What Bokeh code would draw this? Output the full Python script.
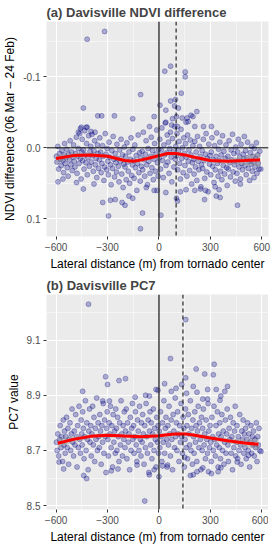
from bokeh.plotting import figure
from bokeh.models import Range1d, FixedTicker, Span
from bokeh.layouts import column
from bokeh.embed import file_html
from bokeh.resources import INLINE

# ---------------- data ----------------
x_ticks = [-600, -300, 0, 300, 600]
x_minor = [-450, -150, 150, 450]
x_labels = {-600: "\u2212600", -300: "\u2212300", 0: "0", 300: "300", 600: "600"}

ndvi_yticks = [-0.1, 0.0, 0.1]
ndvi_yminor = [-0.15, -0.05, 0.05]
ndvi_ylabels = {-0.1: "-0.1", 0.0: "0.0", 0.1: "0.1"}

pc7_yticks = [8.5, 8.7, 8.9, 9.1]
pc7_yminor = [8.6, 8.8, 9.0, 9.2]
pc7_ylabels = {8.5: "8.5", 8.7: "8.7", 8.9: "8.9", 9.1: "9.1"}

ndvi_center_line = 0
ndvi_path_line = 100
pc7_center_line = 0
pc7_path_line = 140

ndvi_points = [
    # outliers
    (-419, -0.153), (-317, -0.164), (-107, -0.075), (-441, -0.056), (-357, -0.045), (-334, -0.045),
    (-260, -0.045), (-153, -0.041), (-28, -0.044), (-453, -0.029), (-419, -0.029),
    (34, -0.108), (68, -0.115), (153, -0.107), (153, -0.100), (130, -0.077), (96, -0.068), (68, -0.066),
    (6, -0.060), (91, -0.059), (113, -0.056), (40, -0.053), (221, -0.051), (187, -0.046), (198, -0.044),
    (136, -0.042), (164, -0.042), (102, -0.044), (79, -0.041), (40, -0.036), (158, -0.036), (170, -0.037),
    (74, -0.032), (209, -0.030), (260, -0.030), (306, -0.030), (108, -0.030),
    (-470, -0.022), (-458, -0.027), (-396, -0.023), (-373, -0.022), (-424, -0.029),
    (-328, 0.077), (-294, 0.096), (-255, 0.073), (-283, 0.074), (-108, 0.114), (-96, 0.092), (-198, 0.081),
    (-215, 0.077), (-441, 0.058), (-589, 0.048), (-560, 0.044), (-481, 0.049), (-379, 0.051), (-175, 0.068),
    (-153, 0.071), (-74, 0.056), (-28, 0.060),
    (11, 0.095), (458, 0.081), (266, 0.073), (334, 0.068), (357, 0.070), (102, 0.071), (108, 0.075),
    (-11, 0.060), (40, 0.063), (125, 0.062), (158, 0.059), (209, 0.060), (243, 0.058), (272, 0.060),
    (328, 0.055), (351, 0.059), (475, 0.051), (555, 0.042), (594, 0.030),
    # main cloud
    (-598, 0.012), (-595, 0.020), (-590, -0.002), (-585, 0.030), (-580, 0.008), (-575, 0.016), (-570, 0.025),
    (-566, 0.004), (-560, 0.018), (-556, 0.035), (-552, 0.010), (-550, -0.006),
    (-547, 0.022), (-543, 0.014), (-538, 0.002), (-535, 0.028), (-530, 0.040), (-527, 0.009), (-522, 0.017),
    (-518, -0.010), (-514, 0.024), (-510, 0.006), (-506, 0.032), (-502, 0.013),
    (-498, -0.004), (-494, 0.019), (-490, 0.027), (-486, 0.008), (-482, -0.015), (-478, 0.036), (-474, 0.012),
    (-470, 0.001), (-466, 0.022), (-462, -0.020), (-458, 0.015), (-454, 0.044), (-451, 0.006),
    (-448, -0.012), (-445, 0.018), (-441, 0.003), (-437, 0.030), (-433, -0.024), (-430, 0.010), (-426, 0.021),
    (-422, -0.006), (-418, 0.038), (-414, 0.014), (-410, -0.017), (-406, 0.026), (-402, 0.005),
    (-398, -0.002), (-395, 0.020), (-391, -0.019), (-387, 0.011), (-383, 0.033), (-379, 0.004), (-375, -0.010),
    (-371, 0.024), (-367, 0.015), (-363, 0.042), (-359, -0.004), (-355, 0.008), (-352, 0.029),
    (-348, 0.017), (-345, -0.014), (-341, 0.006), (-337, 0.035), (-333, 0.022), (-329, -0.003), (-325, 0.012),
    (-321, 0.046), (-317, 0.027), (-313, -0.020), (-309, 0.009), (-305, 0.031), (-302, 0.001),
    (-298, 0.019), (-295, 0.038), (-291, -0.008), (-287, 0.013), (-283, 0.024), (-279, 0.052), (-275, 0.004),
    (-271, 0.029), (-267, -0.016), (-263, 0.016), (-259, 0.041), (-255, 0.008), (-252, 0.021),
    (-248, 0.034), (-245, -0.005), (-241, 0.015), (-237, 0.026), (-233, 0.048), (-229, 0.003), (-225, 0.019),
    (-221, -0.012), (-217, 0.037), (-213, 0.010), (-209, 0.056), (-205, 0.023), (-202, -0.001),
    (-198, 0.027), (-195, 0.012), (-191, 0.045), (-187, -0.007), (-183, 0.020), (-179, 0.033), (-175, 0.006),
    (-171, 0.050), (-167, 0.016), (-163, -0.014), (-159, 0.039), (-155, 0.024), (-152, 0.002),
    (-148, 0.018), (-145, 0.043), (-141, -0.004), (-137, 0.028), (-133, 0.011), (-129, 0.060), (-125, 0.022),
    (-121, -0.018), (-117, 0.035), (-113, 0.007), (-109, 0.047), (-105, 0.014), (-102, 0.026),
    (-98, 0.005), (-95, 0.031), (-91, -0.022), (-87, 0.017), (-83, 0.040), (-79, 0.009), (-75, -0.010),
    (-71, 0.024), (-67, 0.052), (-63, 0.001), (-59, 0.019), (-55, -0.030), (-52, 0.036),
    (-48, 0.012), (-45, -0.015), (-41, 0.028), (-37, 0.004), (-33, 0.045), (-29, 0.016), (-25, -0.006),
    (-21, 0.033), (-17, 0.009), (-13, -0.025), (-9, 0.021), (-5, 0.040), (-2, 0.002),
    (2, 0.014), (5, -0.012), (9, 0.030), (13, 0.003), (17, -0.028), (21, 0.018), (25, 0.042),
    (29, -0.004), (33, 0.010), (37, -0.035), (41, 0.025), (45, 0.007), (48, -0.018),
    (52, 0.020), (55, -0.008), (59, 0.036), (63, 0.001), (67, -0.022), (71, 0.013), (75, 0.048),
    (79, -0.013), (83, 0.006), (87, 0.027), (91, -0.030), (95, 0.016), (98, -0.002),
    (102, 0.011), (105, -0.020), (109, 0.031), (113, 0.004), (117, -0.009), (121, 0.022), (125, 0.044),
    (129, -0.026), (133, 0.015), (137, 0.000), (141, 0.035), (145, -0.014), (148, 0.008),
    (152, 0.025), (155, -0.006), (159, 0.013), (163, 0.040), (167, -0.018), (171, 0.019), (175, 0.003),
    (179, 0.032), (183, -0.011), (187, 0.010), (191, 0.051), (195, 0.021), (198, -0.003),
    (202, 0.016), (205, 0.037), (209, -0.009), (213, 0.027), (217, 0.006), (221, 0.046), (225, -0.016),
    (229, 0.019), (233, 0.031), (237, -0.002), (241, 0.012), (245, 0.055), (248, 0.024),
    (252, 0.004), (255, 0.029), (259, -0.012), (263, 0.018), (267, 0.043), (271, 0.009), (275, -0.020),
    (279, 0.034), (283, 0.015), (287, 0.062), (291, -0.005), (295, 0.023), (298, 0.011),
    (302, 0.038), (305, 0.006), (309, -0.014), (313, 0.026), (317, 0.017), (321, 0.049), (325, -0.003),
    (329, 0.031), (333, 0.012), (337, -0.021), (341, 0.022), (345, 0.040), (348, 0.002),
    (352, 0.018), (355, -0.008), (359, 0.033), (363, 0.010), (367, 0.045), (371, -0.017), (375, 0.025),
    (379, 0.005), (383, 0.037), (387, 0.015), (391, -0.004), (395, 0.028), (398, 0.053),
    (402, 0.012), (405, 0.030), (409, -0.010), (413, 0.021), (417, 0.041), (421, 0.003), (425, 0.017),
    (429, -0.019), (433, 0.034), (437, 0.008), (441, 0.024), (445, 0.047), (448, -0.001),
    (452, 0.019), (455, 0.036), (459, 0.006), (463, -0.012), (467, 0.027), (471, 0.013), (475, 0.044),
    (479, -0.005), (483, 0.022), (487, 0.031), (491, 0.009), (495, 0.016), (498, -0.016),
    (502, 0.025), (505, 0.004), (509, 0.038), (513, 0.014), (517, -0.008), (521, 0.029), (525, 0.019),
    (529, 0.046), (533, 0.007), (537, 0.023), (541, -0.002), (545, 0.033), (548, 0.012),
    (552, 0.020), (556, 0.001), (560, 0.027), (564, 0.015), (568, -0.007), (572, 0.036), (576, 0.010),
    (580, 0.022), (584, 0.030), (588, 0.005),
]

ndvi_smooth_x = [-600, -500, -400, -300, -200, -150, -100, -50, 0, 50, 100, 150, 200, 300, 400, 500, 590]
ndvi_smooth_y = [0.015, 0.011, 0.010, 0.012, 0.018, 0.019, 0.017, 0.014, 0.011, 0.008, 0.008, 0.010, 0.013,
                 0.018, 0.019, 0.018, 0.017]
ndvi_smooth_se = [0.006, 0.004, 0.003, 0.003, 0.003, 0.003, 0.003, 0.003, 0.003, 0.003, 0.003, 0.003, 0.003,
                  0.003, 0.004, 0.006, 0.010]

pc7_points = [
    # outliers
    (-411, 9.230), (-311, 8.967), (-300, 8.939), (-233, 8.953), (-195, 8.960), (-445, 8.914), (-139, 8.893),
    (-78, 8.900), (-56, 8.897), (-17, 8.921), (-328, 8.879), (-289, 8.879),
    (156, 9.174), (67, 9.033), (322, 9.012), (217, 8.995), (267, 8.977), (317, 8.974), (156, 8.963),
    (33, 8.942), (133, 8.939), (100, 8.925), (200, 8.932), (400, 8.932), (72, 8.914), (222, 8.911),
    (284, 8.921), (334, 8.921), (384, 8.914), (161, 8.907), (361, 8.897), (256, 8.886), (284, 8.886),
    (356, 8.882), (-6, 8.918),
    (-83, 8.517), (0, 8.605), (-56, 8.612), (-422, 8.598), (-439, 8.609), (-556, 8.633), (-583, 8.658),
    (-278, 8.626), (-239, 8.633), (-128, 8.647), (-28, 8.630), (50, 8.647), (150, 8.675), (200, 8.612),
    (289, 8.623), (345, 8.623), (361, 8.637), (456, 8.658), (522, 8.682), (595, 8.696),
    (183, 8.609), (222, 8.623), (306, 8.616), (256, 8.637), (22, 8.644),
    # main cloud
    (-598, 8.73), (-594, 8.70), (-590, 8.76), (-585, 8.68), (-580, 8.74), (-576, 8.79), (-571, 8.71),
    (-567, 8.75), (-562, 8.66), (-558, 8.81), (-554, 8.72), (-551, 8.77),
    (-547, 8.69), (-543, 8.75), (-539, 8.82), (-535, 8.71), (-531, 8.78), (-527, 8.65), (-523, 8.74),
    (-519, 8.80), (-515, 8.70), (-511, 8.76), (-507, 8.85), (-503, 8.73),
    (-498, 8.68), (-494, 8.77), (-490, 8.72), (-486, 8.83), (-482, 8.75), (-478, 8.64), (-474, 8.79),
    (-470, 8.71), (-466, 8.86), (-462, 8.74), (-458, 8.69), (-454, 8.81), (-451, 8.76),
    (-448, 8.72), (-445, 8.84), (-441, 8.78), (-437, 8.67), (-433, 8.75), (-429, 8.88), (-425, 8.70),
    (-421, 8.80), (-417, 8.74), (-413, 8.63), (-409, 8.77), (-405, 8.85), (-402, 8.73),
    (-398, 8.79), (-395, 8.68), (-391, 8.76), (-387, 8.86), (-383, 8.72), (-379, 8.82), (-375, 8.66),
    (-371, 8.78), (-367, 8.74), (-363, 8.89), (-359, 8.70), (-355, 8.80), (-352, 8.75),
    (-348, 8.71), (-345, 8.83), (-341, 8.77), (-337, 8.65), (-333, 8.79), (-329, 8.73), (-325, 8.87),
    (-321, 8.69), (-317, 8.81), (-313, 8.75), (-309, 8.62), (-305, 8.78), (-302, 8.84),
    (-298, 8.74), (-295, 8.68), (-291, 8.80), (-287, 8.76), (-283, 8.86), (-279, 8.71), (-275, 8.79),
    (-271, 8.64), (-267, 8.83), (-263, 8.73), (-259, 8.77), (-255, 8.69), (-252, 8.85),
    (-248, 8.78), (-245, 8.70), (-241, 8.82), (-237, 8.75), (-233, 8.66), (-229, 8.80), (-225, 8.72),
    (-221, 8.88), (-217, 8.76), (-213, 8.68), (-209, 8.79), (-205, 8.74), (-202, 8.84),
    (-198, 8.71), (-195, 8.77), (-191, 8.85), (-187, 8.67), (-183, 8.80), (-179, 8.73), (-175, 8.76),
    (-171, 8.63), (-167, 8.82), (-163, 8.70), (-159, 8.78), (-155, 8.87), (-152, 8.74),
    (-148, 8.79), (-145, 8.69), (-141, 8.75), (-137, 8.84), (-133, 8.72), (-129, 8.66), (-125, 8.81),
    (-121, 8.77), (-117, 8.70), (-113, 8.86), (-109, 8.74), (-105, 8.68), (-102, 8.80),
    (-98, 8.73), (-95, 8.83), (-91, 8.76), (-87, 8.65), (-83, 8.79), (-79, 8.71), (-75, 8.87),
    (-71, 8.75), (-67, 8.69), (-63, 8.81), (-59, 8.62), (-55, 8.77), (-52, 8.84),
    (-48, 8.72), (-45, 8.80), (-41, 8.67), (-37, 8.76), (-33, 8.85), (-29, 8.70), (-25, 8.78),
    (-21, 8.74), (-17, 8.64), (-13, 8.82), (-9, 8.73), (-5, 8.79), (-2, 8.69),
    (2, 8.77), (5, 8.71), (9, 8.84), (13, 8.75), (17, 8.66), (21, 8.80), (25, 8.73),
    (29, 8.88), (33, 8.69), (37, 8.78), (41, 8.82), (45, 8.74), (48, 8.64),
    (52, 8.79), (55, 8.72), (59, 8.86), (63, 8.76), (67, 8.68), (71, 8.81), (75, 8.74),
    (79, 8.63), (83, 8.83), (87, 8.77), (91, 8.71), (95, 8.89), (98, 8.75),
    (102, 8.80), (105, 8.70), (109, 8.84), (113, 8.76), (117, 8.66), (121, 8.79), (125, 8.73),
    (129, 8.87), (133, 8.75), (137, 8.69), (141, 8.82), (145, 8.78), (148, 8.64),
    (152, 8.74), (155, 8.85), (159, 8.71), (163, 8.79), (167, 8.67), (171, 8.83), (175, 8.76),
    (179, 8.72), (183, 8.88), (187, 8.70), (191, 8.78), (195, 8.65), (198, 8.81),
    (202, 8.75), (205, 8.69), (209, 8.84), (213, 8.73), (217, 8.79), (221, 8.66), (225, 8.77),
    (229, 8.86), (233, 8.71), (237, 8.80), (241, 8.74), (245, 8.63), (248, 8.82),
    (252, 8.70), (255, 8.78), (259, 8.85), (263, 8.72), (267, 8.76), (271, 8.67), (275, 8.81),
    (279, 8.74), (283, 8.69), (287, 8.87), (291, 8.77), (295, 8.71), (298, 8.79),
    (302, 8.73), (305, 8.66), (309, 8.82), (313, 8.75), (317, 8.70), (321, 8.86), (325, 8.74),
    (329, 8.68), (333, 8.79), (337, 8.72), (341, 8.84), (345, 8.64), (348, 8.76),
    (352, 8.71), (355, 8.80), (359, 8.67), (363, 8.75), (367, 8.83), (371, 8.70), (375, 8.77),
    (379, 8.65), (383, 8.73), (387, 8.81), (391, 8.69), (395, 8.76), (398, 8.85),
    (402, 8.72), (405, 8.66), (409, 8.78), (413, 8.74), (417, 8.82), (421, 8.69), (425, 8.75),
    (429, 8.63), (433, 8.80), (437, 8.71), (441, 8.77), (445, 8.86), (448, 8.68),
    (452, 8.73), (455, 8.79), (459, 8.67), (463, 8.75), (467, 8.70), (471, 8.83), (475, 8.72),
    (479, 8.65), (483, 8.77), (487, 8.74), (491, 8.81), (495, 8.69), (498, 8.76),
    (502, 8.71), (505, 8.78), (509, 8.67), (513, 8.74), (517, 8.80), (521, 8.70), (525, 8.76),
    (529, 8.64), (533, 8.73), (537, 8.79), (541, 8.69), (545, 8.75), (548, 8.72),
    (552, 8.77), (556, 8.68), (560, 8.74), (564, 8.71), (568, 8.80), (572, 8.66), (576, 8.75),
    (580, 8.72), (584, 8.78), (588, 8.70),
]

pc7_smooth_x = [-590, -500, -400, -300, -200, -100, 0, 50, 100, 150, 200, 300, 400, 500, 580]
pc7_smooth_y = [8.726, 8.740, 8.751, 8.755, 8.752, 8.750, 8.753, 8.757, 8.760, 8.760, 8.756, 8.745, 8.735,
                8.727, 8.722]
pc7_smooth_se = [0.018, 0.010, 0.008, 0.008, 0.008, 0.008, 0.008, 0.008, 0.008, 0.008, 0.008, 0.008, 0.009,
                 0.012, 0.020]

# ---------------- styling helpers ----------------
FONT = "Liberation Sans"
PANEL_BG = "#EBEBEB"
TICK_COL = "#4D4D4D"


def make_panel(title, ylabel, y_start, y_end, yticks, yminor, ylabels, pts,
               sx, sy, sse, center, path, hline, frame_h):
    p = figure(frame_width=222, frame_height=frame_h,
               x_range=Range1d(-656, 639), y_range=Range1d(y_start, y_end),
               output_backend="svg", toolbar_location=None,
               background_fill_color=PANEL_BG, border_fill_color="white",
               min_border_left=0, min_border_right=3, min_border_top=2, min_border_bottom=2)
    p.outline_line_color = None
    p.title.text = title
    p.title.text_font = FONT
    p.title.text_font_size = "13px"
    p.title.text_font_style = "bold"
    p.title.align = "left"
    p.title.standoff = 4

    p.xaxis.ticker = FixedTicker(ticks=x_ticks, minor_ticks=x_minor)
    p.yaxis.ticker = FixedTicker(ticks=yticks, minor_ticks=yminor)
    p.xaxis.major_label_overrides = x_labels
    p.yaxis.major_label_overrides = ylabels
    for ax in (p.xaxis[0], p.yaxis[0]):
        ax.axis_line_color = None
        ax.major_tick_in = 0
        ax.major_tick_out = 3
        ax.major_tick_line_color = "#333333"
        ax.minor_tick_line_color = None
        ax.major_label_text_font = FONT
        ax.major_label_text_font_size = "10px"
        ax.major_label_text_color = TICK_COL
        ax.major_label_standoff = 2
        ax.axis_label_text_font = FONT
        ax.axis_label_text_font_size = "12px"
        ax.axis_label_text_font_style = "normal"
        ax.axis_label_text_color = "black"
        ax.axis_label_standoff = 3
    p.xaxis.axis_label = "Lateral distance (m) from tornado center"
    p.yaxis.axis_label = ylabel

    for g in (p.xgrid[0], p.ygrid[0]):
        g.grid_line_color = "white"
        g.grid_line_width = 1.1
        g.minor_grid_line_color = "white"
        g.minor_grid_line_width = 0.5

    xs = [a for a, b in pts]
    ys = [b for a, b in pts]
    p.scatter(xs, ys, size=5, fill_color="navy", line_color="navy",
              fill_alpha=0.28, line_alpha=0.28)

    if hline is not None:
        p.add_layout(Span(location=hline, dimension="width", line_color="black", line_width=1))
    p.add_layout(Span(location=center, dimension="height", line_color="#222222", line_width=1.3))
    p.add_layout(Span(location=path, dimension="height", line_color="black", line_width=1,
                      line_dash="4 3"))

    lo = [a - e for a, e in zip(sy, sse)]
    hi = [a + e for a, e in zip(sy, sse)]
    p.varea(x=sx, y1=lo, y2=hi, fill_color="#999999", fill_alpha=0.45)
    p.line(sx, sy, line_color="red", line_width=3)
    return p


p1 = make_panel("(a) Davisville NDVI difference", "NDVI difference (06 Mar \u2013 24 Feb)",
                0.125, -0.178, ndvi_yticks, ndvi_yminor, ndvi_ylabels, ndvi_points,
                ndvi_smooth_x, ndvi_smooth_y, ndvi_smooth_se, ndvi_center_line, ndvi_path_line, 0.0, 215)
p2 = make_panel("(b) Davisville PC7", "PC7 value",
                8.486, 9.265, pc7_yticks, pc7_yminor, pc7_ylabels, pc7_points,
                pc7_smooth_x, pc7_smooth_y, pc7_smooth_se, pc7_center_line, pc7_path_line, None, 215)

layout = column(p1, p2, spacing=0)
open("out.html", "w").write(file_html(layout, INLINE))
